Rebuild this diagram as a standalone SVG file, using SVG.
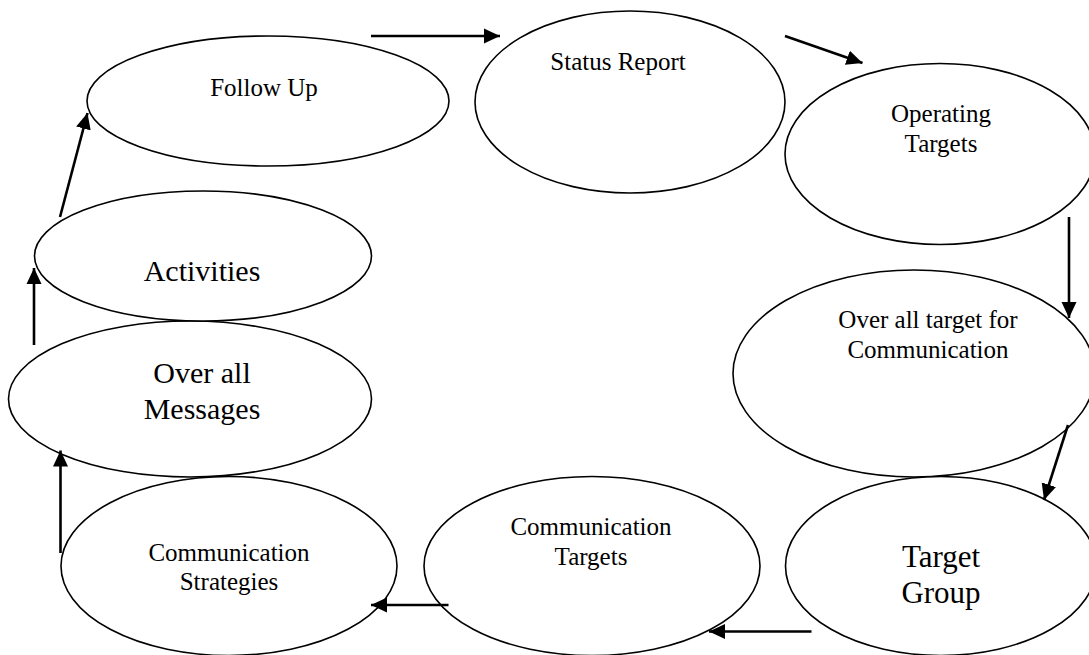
<svg xmlns="http://www.w3.org/2000/svg" width="1089" height="655" viewBox="0 0 1089 655">
  <defs>
    <marker id="arr" markerUnits="userSpaceOnUse" markerWidth="16" markerHeight="16" viewBox="0 0 16 16" refX="16" refY="8" orient="auto">
      <path d="M0,0.5 L16,8 L0,15.5 Z" fill="#000"/>
    </marker>
    <style>
      ellipse { fill: #fff; stroke: #000; stroke-width: 1.6; }
      .conn line { stroke: #000; stroke-width: 2.6; fill: none; marker-end: url(#arr); }
      text { font-family: "Liberation Serif", "Times New Roman", serif; fill: #000; text-anchor: middle; }
      .s { font-size: 25px; }
      .m { font-size: 30px; }
      .l { font-size: 31px; }
    </style>
  </defs>
  <rect width="1089" height="655" fill="#fff"/>

  <g id="follow-up">
    <ellipse cx="268" cy="101" rx="181" ry="65"/>
    <text class="s" x="264" y="96">Follow Up</text>
  </g>
  <g id="status-report">
    <ellipse cx="630" cy="102" rx="155" ry="91"/>
    <text class="s" x="618" y="70">Status Report</text>
  </g>
  <g id="operating-targets">
    <ellipse cx="940" cy="154" rx="155" ry="90.5"/>
    <text class="s" x="941" y="122">Operating</text>
    <text class="s" x="941" y="152">Targets</text>
  </g>
  <g id="overall-target">
    <ellipse cx="914" cy="373.5" rx="181" ry="103.5"/>
    <text class="s" x="928" y="328">Over all target for</text>
    <text class="s" x="928" y="357.5">Communication</text>
  </g>
  <g id="target-group">
    <ellipse cx="941" cy="566" rx="155.5" ry="89.5"/>
    <text class="l" x="941" y="567">Target</text>
    <text class="l" x="941" y="603">Group</text>
  </g>
  <g id="communication-targets">
    <ellipse cx="592" cy="566" rx="168" ry="89.5"/>
    <text class="s" x="591" y="535">Communication</text>
    <text class="s" x="591" y="565">Targets</text>
  </g>
  <g id="communication-strategies">
    <ellipse cx="229" cy="566" rx="168" ry="89.5"/>
    <text class="s" x="229" y="561">Communication</text>
    <text class="s" x="229" y="590">Strategies</text>
  </g>
  <g id="overall-messages">
    <ellipse cx="190" cy="399" rx="181.5" ry="78"/>
    <text class="m" x="202" y="383">Over all</text>
    <text class="m" x="202" y="419">Messages</text>
  </g>
  <g id="activities">
    <ellipse cx="203" cy="256" rx="168.5" ry="65"/>
    <text class="m" x="202" y="281">Activities</text>
  </g>

  <g id="connectors" class="conn">
    <line x1="371" y1="36" x2="500" y2="36"/>
    <line x1="785" y1="36" x2="862.5" y2="63"/>
    <line x1="1069" y1="217" x2="1069" y2="318"/>
    <line x1="1068" y1="425" x2="1044" y2="500"/>
    <line x1="811.5" y1="631.5" x2="709" y2="631.5"/>
    <line x1="448.5" y1="605" x2="371" y2="605"/>
    <line x1="60.5" y1="553" x2="60.5" y2="450.5"/>
    <line x1="34" y1="345" x2="34" y2="268"/>
    <line x1="60" y1="217" x2="87.5" y2="113"/>
  </g>
</svg>
